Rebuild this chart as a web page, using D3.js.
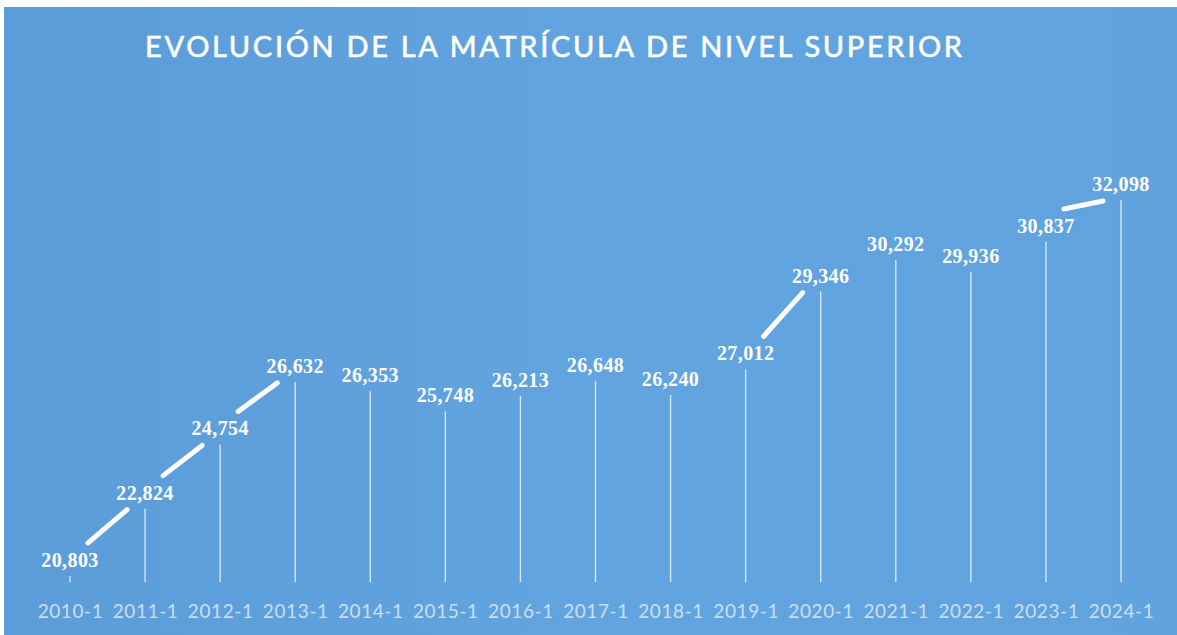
<!DOCTYPE html>
<html>
<head>
<meta charset="utf-8">
<script src="https://cdn.jsdelivr.net/npm/d3@7"></script>
<style>
html,body{margin:0;padding:0;background:#ffffff;}
svg{display:block;}
</style>
</head>
<body>
<svg id="chart" width="1177" height="635"></svg>
<script>
const title = "EVOLUCIÓN DE LA MATRÍCULA DE NIVEL SUPERIOR";
const categories = ["2010-1","2011-1","2012-1","2013-1","2014-1","2015-1","2016-1","2017-1","2018-1","2019-1","2020-1","2021-1","2022-1","2023-1","2024-1"];
const values = [20803,22824,24754,26632,26353,25748,26213,26648,26240,27012,29346,30292,29936,30837,32098];
// pairs of category indexes joined by a decorative white stroke
const connectors = [[0,1],[1,2],[2,3],[9,10],[13,14]];

const W = 1177, H = 635;
const svg = d3.select("#chart");

const defs = svg.append("defs");
const bg = defs.append("linearGradient").attr("id","bg").attr("x1","0").attr("x2","1").attr("y1","0").attr("y2","0");
bg.append("stop").attr("offset","0").attr("stop-color","#5b9cd9");
bg.append("stop").attr("offset","0.5").attr("stop-color","#62a4df");
bg.append("stop").attr("offset","1").attr("stop-color","#60a3de");

svg.append("rect").attr("x",4).attr("y",7).attr("width",W-4).attr("height",H-7).attr("fill","url(#bg)");

const x = d3.scalePoint().domain(categories).range([70,1121]);
const y = d3.scaleLinear().domain([20740, 32098]).range([578, 200]);
const base = 582;

// title
svg.append("text")
  .attr("x",145).attr("y",57)
  .attr("textLength",817).attr("lengthAdjust","spacing")
  .attr("font-family","Lato, 'Open Sans', sans-serif")
  .attr("font-size",29).attr("font-weight",400)
  .attr("fill","#ffffff")
  .attr("stroke","#ffffff").attr("stroke-width",0.6)
  .text(title);

// stems
svg.append("g").selectAll("line").data(values).join("line")
  .attr("x1",(d,i)=>x(categories[i])).attr("x2",(d,i)=>x(categories[i]))
  .attr("y1",d=>y(d)).attr("y2",base)
  .attr("stroke","#ffffff").attr("stroke-opacity",0.75).attr("stroke-width",1.4);

// connectors
svg.append("g").selectAll("line").data(connectors).join("line")
  .attr("x1",d=>x(categories[d[0]])+18)
  .attr("y1",d=>y(values[d[0]])-33)
  .attr("x2",d=>x(categories[d[1]])-18)
  .attr("y2",d=>y(values[d[1]])+1)
  .attr("stroke","#ffffff").attr("stroke-width",5).attr("stroke-linecap","round");

// value labels
const fmt = d3.format(",");
svg.append("g").selectAll("text").data(values).join("text")
  .attr("x",(d,i)=>x(categories[i]))
  .attr("y",d=>y(d)-9)
  .attr("text-anchor","middle")
  .attr("font-family","'Liberation Serif', 'DejaVu Serif', serif")
  .attr("font-weight","bold").attr("font-size",20)
  .attr("letter-spacing",0.4)
  .attr("fill","#ffffff")
  .text(d=>fmt(d));

// x axis labels
const xAxis = d3.axisBottom(x).tickSize(0).tickPadding(0);
const gx = svg.append("g").attr("transform",`translate(0,${base})`).call(xAxis);
gx.select(".domain").remove();
gx.selectAll("text")
  .attr("dy",0).attr("y",36)
  .attr("font-family","Lato, 'Open Sans', sans-serif")
  .attr("font-size",19)
  .attr("letter-spacing",0.6)
  .attr("fill","#ffffff").attr("fill-opacity",0.68);
</script>
</body>
</html>
